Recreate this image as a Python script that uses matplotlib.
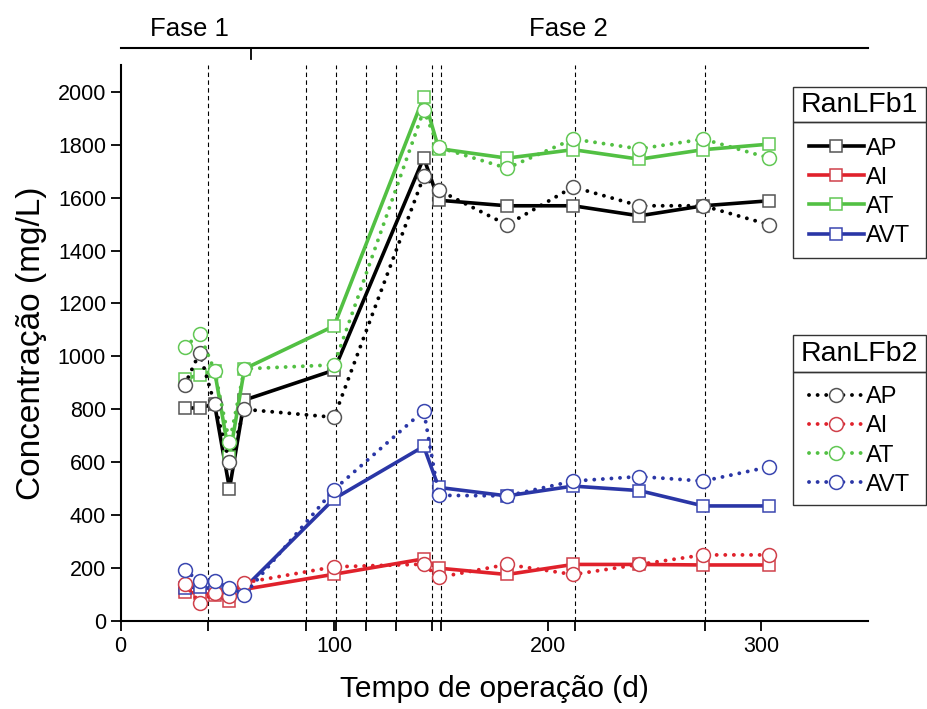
import matplotlib.pyplot as plt
from matplotlib.patches import Rectangle

plt.rcParams['font.family'] = ['Liberation Sans', 'DejaVu Sans']

# operation days of each sampling
days = [30, 37, 44, 51, 58, 100, 142, 149, 181, 212, 243, 273, 304]

# RanLFb1 (solid lines, squares)
ap1 = [805, 805, 820, 500, 835, 948, 1750, 1590, 1569, 1569, 1531, 1569, 1588]
ai1 = [110, 105, 100, 75, 120, 177, 235, 200, 176, 214, 214, 212, 212]
at1 = [915, 930, 946, 620, 953, 1115, 1980, 1785, 1749, 1781, 1745, 1781, 1802]
avt1 = [125, 130, 120, 105, 125, 462, 660, 505, 473, 510, 493, 435, 435]

# RanLFb2 (dotted lines, circles)
ap2 = [892, 1014, 820, 600, 800, 770, 1680, 1628, 1497, 1640, 1569, 1569, 1497]
ai2 = [140, 70, 105, 95, 145, 205, 215, 165, 214, 176, 214, 250, 250]
at2 = [1035, 1085, 946, 675, 953, 968, 1930, 1790, 1711, 1821, 1784, 1821, 1749]
avt2 = [193, 150, 150, 126, 100, 497, 795, 475, 473, 529, 546, 529, 583]

names = ['AP', 'AI', 'AT', 'AVT']
colors = ['#000000', '#e0212b', '#52c043', '#2a36a6']
edges = ['#555555', '#d0404a', '#62c855', '#3a46b0']

# dashed event lines
events = [41, 87, 101, 115, 129, 146, 150, 213, 274]
phase_change = 61

fig = plt.figure(figsize=(9.28, 7.09), dpi=100)
ax = fig.add_axes([0.130, 0.124, 0.805, 0.784])

for d in events:
    ax.axvline(d, color='black', lw=0.8, ls=(0, (4, 3)), zorder=1)

b1_lines = []
for vals, c, e in zip([ap1, ai1, at1, avt1], colors, edges):
    ln, = ax.plot(days, vals, color=c, lw=2.6, marker='s', ms=8,
                  mfc='white', mec=e, mew=1.1, zorder=3)
    b1_lines.append(ln)

b2_lines = []
for vals, c, e in zip([ap2, ai2, at2, avt2], colors, edges):
    ln, = ax.plot(days, vals, color=c, lw=2.8, ls=(0, (0.01, 2.2)),
                  dash_capstyle='round', marker='o', ms=10,
                  mfc='white', mec=e, mew=1.1, zorder=4)
    b2_lines.append(ln)

ax.set_xlim(0, 350)
ax.set_ylim(0, 2100)
ax.set_xticks([0, 100, 200, 300])
ax.set_xticks(events, minor=True)
ax.set_yticks(range(0, 2001, 200))
ax.tick_params(axis='both', which='major', direction='out', length=7,
               width=1.3, labelsize=15.5)
ax.tick_params(axis='x', which='minor', direction='out', length=7, width=1.3)
for s in ['top', 'right']:
    ax.spines[s].set_visible(False)
for s in ['left', 'bottom']:
    ax.spines[s].set_linewidth(1.5)

ax.set_xlabel('Tempo de operação (d)', fontsize=21.5, labelpad=13)
ax.set_ylabel('Concentração (mg/L)', fontsize=24, labelpad=8)

# phase bar above the plot
ax.plot([0, 350], [2164, 2164], color='black', lw=1.5, clip_on=False)
ax.plot([phase_change, phase_change], [2164, 2125], color='black', lw=1.3,
        clip_on=False)
ax.text(32, 2235, 'Fase 1', ha='center', va='center', fontsize=18.5)
ax.text(210, 2235, 'Fase 2', ha='center', va='center', fontsize=18.5)

# legend boxes with separate title cells
x0, x1 = 0.8545, 0.998
for (ty0, ty1, ey0), title in zip([(0.828, 0.877, 0.636),
                                   (0.475, 0.527, 0.288)],
                                  ['RanLFb1', 'RanLFb2']):
    fig.patches.append(Rectangle((x0, ty0), x1 - x0, ty1 - ty0, fill=False,
                                 lw=1, ec='#333333',
                                 transform=fig.transFigure))
    fig.patches.append(Rectangle((x0, ey0), x1 - x0, ty0 - ey0, fill=False,
                                 lw=1, ec='#333333',
                                 transform=fig.transFigure))
    fig.text((x0 + x1) / 2, (ty0 + ty1) / 2, title, ha='center',
             va='center', fontsize=20.5)

leg_opts = dict(loc='upper left', frameon=False, fontsize=17,
                handlelength=2.3, handletextpad=0.12, labelspacing=0.3,
                borderpad=0, borderaxespad=0, numpoints=1)
fig.legend(handles=b1_lines, labels=names, bbox_to_anchor=(0.872, 0.806),
           **leg_opts)
fig.legend(handles=b2_lines, labels=names, bbox_to_anchor=(0.872, 0.455),
           **leg_opts)

fig.savefig('out.png', dpi=100)
